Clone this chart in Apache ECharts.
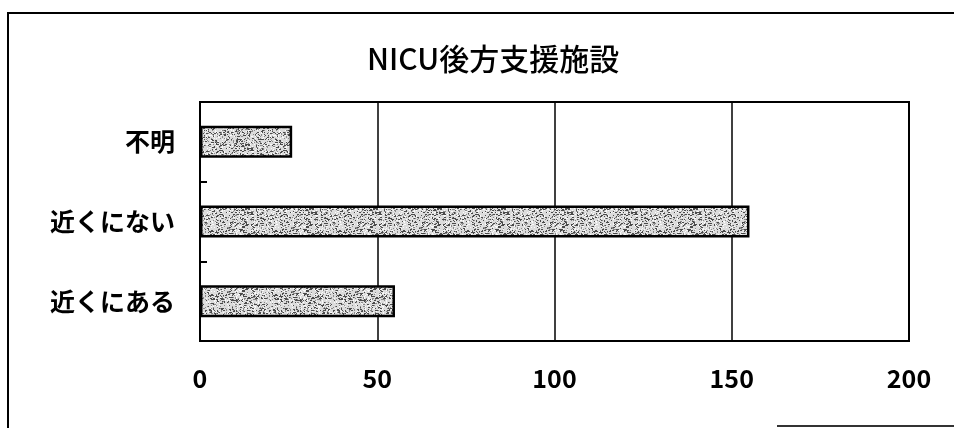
<!DOCTYPE html>
<html>
<head>
<meta charset="utf-8">
<script src="https://cdn.jsdelivr.net/npm/echarts@6/dist/echarts.min.js"></script>
<style>
  html, body { margin: 0; padding: 0; background: #fff; }
  #chart { width: 954px; height: 428px; }
</style>
</head>
<body>
<div id="chart"></div>
<script>
// Survey answers: is there a NICU back-up facility nearby?
const categories = ['近くにある', '近くにない', '不明'];
const counts = [55, 155, 26];
const xTicks = [0, 50, 100, 150, 200];
const titleText = 'NICU後方支援施設';

// Stippled grey fill for the bars (deterministic speckle)
function stipple() {
  const c = document.createElement('canvas');
  c.width = 64; c.height = 64;
  const g = c.getContext('2d');
  g.fillStyle = '#dcdcdc';
  g.fillRect(0, 0, 64, 64);
  let s = 12345;
  const next = () => { s = (s * 1103515245 + 12345) & 0x7fffffff; return s / 0x7fffffff; };
  for (let i = 0; i < 1700; i++) {
    const x = Math.floor(next() * 64), y = Math.floor(next() * 64);
    const v = next();
    g.fillStyle = v < 0.4 ? '#4a4a4a' : (v < 0.7 ? '#8a8a8a' : '#fafafa');
    g.fillRect(x, y, v < 0.15 ? 2 : 1, 1);
  }
  return c;
}

const chart = echarts.init(document.getElementById('chart'), null, { renderer: 'canvas' });
const labelFont = { fontFamily: '"Noto Sans CJK JP", sans-serif', fontSize: 25, fontWeight: 'bold', color: '#000' };

chart.setOption({
  backgroundColor: '#fff',
  animation: false,
  title: {
    text: titleText,
    left: 362, top: 39,
    textStyle: { fontFamily: '"Noto Sans CJK JP", sans-serif', fontSize: 30, fontWeight: 500, color: '#000' }
  },
  graphic: [
    { type: 'polyline', shape: { points: [[8, 428], [8, 13], [954, 13]] }, style: { stroke: '#000', lineWidth: 2, fill: null } },
    { type: 'line', shape: { x1: 777, y1: 426, x2: 954, y2: 426 }, style: { stroke: '#333', lineWidth: 2 } }
  ],
  grid: { left: 200, right: 45, top: 102, bottom: 87, show: true, borderColor: '#000', borderWidth: 2 },
  xAxis: {
    type: 'value',
    min: xTicks[0], max: xTicks[xTicks.length - 1], interval: 50,
    axisLine: { show: true, lineStyle: { color: '#000', width: 2 } },
    axisTick: { show: false },
    splitLine: { show: true, lineStyle: { color: '#000', width: 1.5 } },
    axisLabel: Object.assign({ margin: 25 }, labelFont)
  },
  yAxis: {
    type: 'category',
    data: categories,
    axisLine: { show: true, lineStyle: { color: '#000', width: 2 } },
    axisTick: { show: true, inside: true, length: 7, lineStyle: { color: '#000', width: 2 } },
    splitLine: { show: false },
    axisLabel: Object.assign({ margin: 25 }, labelFont)
  },
  series: [{
    type: 'bar',
    data: counts,
    barWidth: 32,
    itemStyle: {
      color: { image: stipple(), repeat: 'repeat' },
      borderColor: '#000',
      borderWidth: 2.5
    }
  }]
});
</script>
</body>
</html>
